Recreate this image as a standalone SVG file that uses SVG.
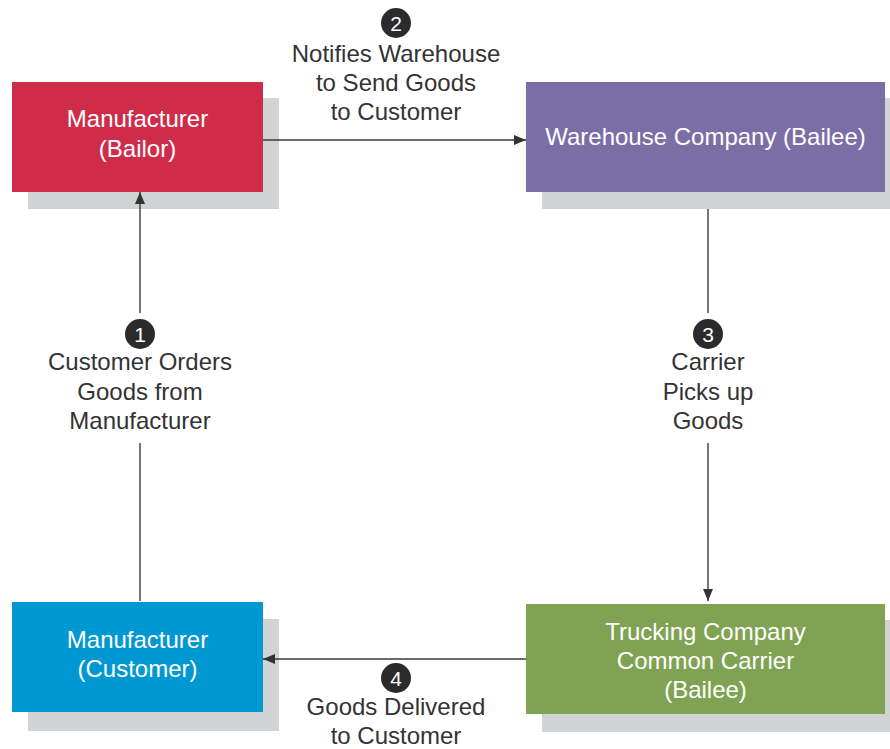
<svg xmlns="http://www.w3.org/2000/svg" width="890" height="749" viewBox="0 0 890 749">
<defs>
<style>
.shadow{fill:#d1d3d4}
.box-text{fill:#ffffff;font-family:"Liberation Sans",Arial,sans-serif;font-size:24px;text-anchor:middle}
.label{fill:#333333;font-family:"Liberation Sans",Arial,sans-serif;font-size:24px;text-anchor:middle}
.badge{fill:#2b2b2b}
.badge-num{fill:#ffffff;font-family:"Liberation Sans",Arial,sans-serif;font-size:21px;text-anchor:middle}
.conn{stroke:#3a3a3a;stroke-width:1.4;fill:none}
</style>
<marker id="arrow" viewBox="0 0 12 10" refX="12" refY="5" markerWidth="12" markerHeight="10" markerUnits="userSpaceOnUse" orient="auto">
<path d="M0,0 L12,5 L0,10 z" fill="#333333"/>
</marker>
</defs>
<rect width="890" height="749" fill="#ffffff"/>

<g id="manufacturer-bailor">
<rect class="shadow" x="28" y="98" width="251" height="111"/>
<rect x="12" y="82" width="251" height="110" fill="#cf2c4a"/>
<text class="box-text" x="137.5" y="127">Manufacturer</text>
<text class="box-text" x="137.5" y="157">(Bailor)</text>
</g>

<g id="warehouse-company">
<rect class="shadow" x="542" y="98" width="348" height="111"/>
<rect x="526" y="82" width="359" height="110" fill="#7b6ea6"/>
<text class="box-text" x="705.5" y="145">Warehouse Company (Bailee)</text>
</g>

<g id="trucking-company">
<rect class="shadow" x="542" y="620" width="348" height="112"/>
<rect x="526" y="604" width="359" height="110" fill="#7fa352"/>
<text class="box-text" x="705.5" y="640">Trucking Company</text>
<text class="box-text" x="705.5" y="669">Common Carrier</text>
<text class="box-text" x="705.5" y="698">(Bailee)</text>
</g>

<g id="manufacturer-customer">
<rect class="shadow" x="28" y="619" width="251" height="112"/>
<rect x="12" y="602" width="251" height="110" fill="#0098d2"/>
<text class="box-text" x="137.5" y="648">Manufacturer</text>
<text class="box-text" x="137.5" y="677">(Customer)</text>
</g>

<g id="connectors">
<line class="conn" x1="263" y1="140" x2="526" y2="140" marker-end="url(#arrow)"/>
<line class="conn" x1="708" y1="209" x2="708" y2="313"/>
<line class="conn" x1="708" y1="443" x2="708" y2="601" marker-end="url(#arrow)"/>
<line class="conn" x1="526" y1="659" x2="263" y2="659" marker-end="url(#arrow)"/>
<line class="conn" x1="140" y1="601" x2="140" y2="443"/>
<line class="conn" x1="140" y1="313" x2="140" y2="192" marker-end="url(#arrow)"/>
</g>

<g id="step-1">
<circle class="badge" cx="140" cy="334" r="15"/>
<text class="badge-num" x="140" y="341.5">1</text>
<text class="label" x="140" y="370">Customer Orders</text>
<text class="label" x="140" y="400">Goods from</text>
<text class="label" x="140" y="429">Manufacturer</text>
</g>

<g id="step-2">
<circle class="badge" cx="396" cy="23" r="15"/>
<text class="badge-num" x="396" y="30.5">2</text>
<text class="label" x="396" y="62">Notifies Warehouse</text>
<text class="label" x="396" y="91">to Send Goods</text>
<text class="label" x="396" y="120">to Customer</text>
</g>

<g id="step-3">
<circle class="badge" cx="708" cy="334" r="15"/>
<text class="badge-num" x="708" y="341.5">3</text>
<text class="label" x="708" y="370">Carrier</text>
<text class="label" x="708" y="400">Picks up</text>
<text class="label" x="708" y="429">Goods</text>
</g>

<g id="step-4">
<circle class="badge" cx="396" cy="678" r="15"/>
<text class="badge-num" x="396" y="685.5">4</text>
<text class="label" x="396" y="715">Goods Delivered</text>
<text class="label" x="396" y="744">to Customer</text>
</g>
</svg>
